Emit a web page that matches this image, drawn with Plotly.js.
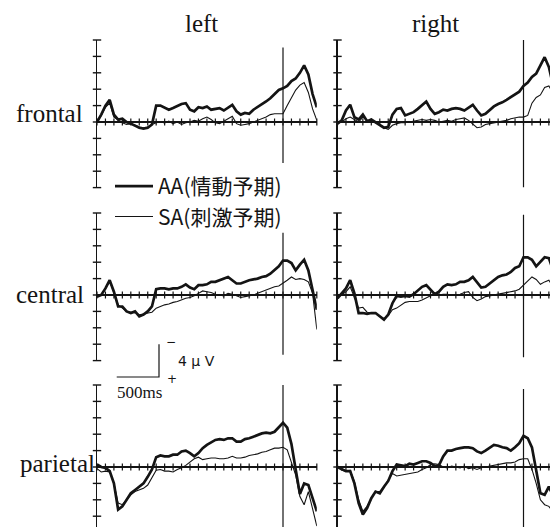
<!DOCTYPE html>
<html>
<head>
<meta charset="utf-8">
<script src="https://cdn.plot.ly/plotly-3.0.1.min.js"></script>
<style>
  html, body { margin: 0; padding: 0; background: #fff; }
  #chart { width: 550px; height: 527px; }
</style>
</head>
<body>
<div id="chart"></div>
<script>
// Sampling times (ms, relative to S2 onset), 50 ms steps
const timeMs = [-2200, -2150, -2100, -2050, -2000, -1950, -1900, -1850, -1800, -1750,
                -1700, -1650, -1600, -1550, -1500, -1450, -1400, -1350, -1300, -1250,
                -1200, -1150, -1100, -1050, -1000, -950, -900, -850, -800, -750,
                -700, -650, -600, -550, -500, -450, -400, -350, -300, -250,
                -200, -150, -100, -50, 0, 50, 100, 150, 200, 250,
                300, 350, 400];

const regions = ['frontal', 'central', 'parietal'];
const hemispheres = ['left', 'right'];
const seriesNames = ['AA(情動予期)', 'SA(刺激予期)'];

// Grand-average amplitudes (µV, negative plotted upward)
const leftFrontalAA = [0, -0.9, -2.0, -2.7, -0.9, -0.3, -0.4, 0, 0.2, 0.45,
  0.7, 0.8, 0.7, 0.3, -2.0, -2.0, -1.7, -1.5, -1.7, -2.0,
  -2.2, -2.3, -1.5, -1.3, -1.8, -1.7, -1.9, -1.5, -1.6, -1.7,
  -1.4, -1.7, -2.1, -1.3, -0.9, -1.1, -1.0, -1.5, -1.8, -2.1,
  -2.5, -2.9, -3.4, -3.9, -4.1, -4.4, -5.0, -5.3, -6.0, -6.9,
  -5.8, -3.4, -1.8];
const leftFrontalSA = [0, -0.8, -1.8, -2.3, -0.6, -0.2, 0.1, 0.3, 0.2, 0.4,
  0.6, 0.7, 0.6, 0.3, 0.1, 0.0, 0.1, -0.1, 0.2, 0.0,
  0.3, 0.1, 0.0, -0.2, -0.1, -0.4, -0.6, -0.3, 0.1, 0.2,
  -0.1, -0.3, -0.7, 0.2, 0.4, 0.3, 0.2, 0.0, -0.2, -0.4,
  -0.6, -0.9, -1.0, -1.0, -1.0, -2.0, -3.0, -3.9, -4.5, -4.8,
  -3.6, -1.6, -0.2];
const rightFrontalAA = [0.2, -0.2, -1.4, -2.1, -0.6, -0.3, -0.9, -0.1, -0.3, 0,
  0.3, 0.7, 0.6, -0.9, -1.6, -1.7, -0.8, -1.0, -1.2, -1.6,
  -2.0, -2.5, -1.6, -1.0, -1.2, -1.5, -1.4, -1.6, -1.7, -1.6,
  -1.4, -1.8, -2.1, -1.4, -0.8, -1.0, -1.5, -1.9, -2.2, -2.4,
  -2.7, -3.0, -3.4, -3.7, -4.4, -4.8, -5.5, -5.9, -6.9, -7.9,
  -6.7, -4.3, -2.2];
const rightFrontalSA = [0.1, 0, -0.4, -0.6, -0.3, 0, -0.6, -0.2, 0, 0.1,
  0.3, 0.7, 0.9, 0.4, 0.2, 0.1, 0.1, 0, -0.1, -0.2,
  -0.3, -0.2, -0.3, -0.2, 0, -0.1, -0.2, -0.1, -0.3, -0.4,
  -0.5, -0.2, 0.3, 0.7, 0.6, 0.3, 0.2, 0.1, 0, -0.1,
  -0.2, -0.4, -0.5, -0.6, -0.6, -0.8, -2.3, -3.0, -3.3, -4.2,
  -4.4, -3.5, -2.0];
const leftCentralAA = [0.2, 0, -0.8, -1.8, -0.4, 1.4, 1.4, 2.0, 2.2, 2.0,
  2.6, 2.4, 2.0, 1.4, -0.7, -0.8, -0.8, -0.7, -0.8, -0.8,
  -1.0, -1.3, -0.9, -0.7, -1.2, -1.2, -1.3, -1.6, -1.6, -1.8,
  -2.0, -2.2, -1.8, -1.4, -1.4, -1.6, -1.8, -1.9, -2.0, -2.2,
  -2.3, -2.6, -3.0, -3.5, -4.2, -4.2, -3.9, -3.0, -3.7, -4.3,
  -3.0, -0.8, 1.8];
const leftCentralSA = [0.2, 0, -0.8, -1.7, -0.3, 1.2, 1.6, 2.0, 2.1, 2.1,
  2.4, 2.3, 2.2, 2.1, 1.6, 1.4, 1.2, 1.1, 0.9, 0.8,
  0.6, 0.4, 0.3, 0.1, -0.2, -0.5, -0.4, -0.3, -0.1, 0.0,
  0.1, -0.2, -0.1, 0.1, 0.3, 0.2, 0.1, 0.0, -0.2, -0.4,
  -0.6, -0.8, -1.0, -1.1, -1.4, -1.8, -2.2, -1.9, -2.0, -1.9,
  -1.6, -0.2, 4.2];
const rightCentralAA = [0.4, -0.2, -0.8, -1.8, -0.2, 2.2, 2.2, 2.3, 2.2, 2.2,
  2.6, 3.0, 2.4, 1.0, 0.1, 0.2, 0.1, 0.2, -0.1, -0.5,
  -1.0, -1.2, -0.7, -0.1, -0.4, -1.0, -1.3, -1.2, -1.3, -1.6,
  -1.6, -1.8, -2.2, -1.6, -0.9, -1.0, -1.4, -1.8, -2.2, -2.4,
  -2.5, -2.8, -3.3, -3.5, -4.6, -4.6, -4.3, -3.5, -4.1, -4.6,
  -4.5, -3.0, -1.0];
const rightCentralSA = [0.3, 0, -0.4, -1.0, 0.2, 1.6, 1.5, 2.1, 2.2, 2.2,
  2.6, 2.9, 2.5, 1.8, 1.6, 1.2, 0.9, 0.8, 0.8, 0.8,
  0.6, 0.3, 0.1, 0, 0, -0.1, -0.1, 0, 0, -0.1,
  -0.3, -0.4, 0.3, 0.7, 0.5, 0.2, 0.1, 0, -0.1, -0.2,
  -0.3, -0.4, -0.5, -0.7, -1.2, -1.8, -2.2, -1.9, -1.3, -1.6,
  -1.8, -1.0, 0];
const leftParietalAA = [-0.3, 0, 0.1, 0.5, 2.0, 5.2, 4.8, 4.0, 3.2, 2.8,
  2.4, 2.0, 1.2, 0.3, -1.2, -1.4, -1.3, -1.3, -1.5, -1.5,
  -1.9, -2.0, -1.7, -1.3, -1.7, -2.3, -2.7, -3.0, -3.3, -3.4,
  -3.3, -3.5, -3.5, -3.1, -3.1, -3.4, -3.5, -3.7, -3.9, -4.1,
  -4.2, -4.1, -4.3, -4.8, -5.4, -4.8, -2.8, 0.3, 3.3, 2.0,
  2.2, 3.8, 5.4];
const leftParietalSA = [0.2, 0.6, 0.5, 0.6, 2.0, 4.4, 4.6, 4.0, 3.4, 3.0,
  2.8, 2.6, 2.2, 1.3, 0.4, 0.3, 0.5, 0.5, 0.6, 0.3,
  0.1, -0.2, -0.6, -1.0, -1.2, -0.9, -1.0, -1.1, -1.1, -1.0,
  -1.0, -1.1, -1.3, -1.1, -1.1, -1.2, -1.4, -1.5, -1.6, -1.8,
  -1.9, -2.1, -2.3, -2.3, -2.4, -2.1, -0.6, 1.0, 3.6, 4.6,
  3.0, 5.0, 7.2];
const rightParietalAA = [0, 0.3, 0.5, 0.5, 2.0, 4.4, 5.8, 5.0, 3.8, 3.0,
  3.2, 2.4, 1.7, 0.5, -0.3, -0.2, -0.1, -0.4, -0.3, -0.5,
  -0.7, -0.7, -0.5, -0.1, -0.2, -1.3, -2.0, -2.0, -2.2, -2.3,
  -2.4, -2.4, -2.3, -1.9, -1.7, -2.0, -2.4, -2.7, -2.6, -2.4,
  -2.3, -2.0, -2.4, -2.9, -3.8, -3.5, -2.4, 0.3, 3.2, 3.4,
  2.4, 3.5, 4.5];
const rightParietalSA = [0, 0.4, 0.5, 0.4, 1.8, 4.0, 5.4, 4.8, 3.8, 3.0,
  3.0, 2.4, 1.6, 0.8, 1.1, 1.0, 0.9, 0.8, 0.7, 0.6,
  0.3, 0.1, -0.3, -0.4, -0.3, 0.0, 0.1, -0.1, 0.0, 0.1,
  -0.1, 0.2, 0.1, 0.3, 0.1, 0.0, -0.1, -0.2, -0.3, -0.4,
  -0.5, -0.5, -0.6, -0.9, -1.0, -1.0, 0.3, 2.0, 4.0, 4.6,
  4.8, 5.5, 6.0];

// Axis tick positions
const yTickUv = [-10, -8, -6, -4, -2, 0, 2, 4, 6, 8];
const xTickMs = [-2200, -2100, -2000, -1900, -1800, -1700, -1600, -1500, -1400,
                 -1300, -1200, -1100, -1000, -900, -800, -700, -600, -500, -400,
                 -300, -200, -100, 0, 100, 200, 300, 400];

// Calibration bar
const scaleMs = 500;
const scaleUv = 4;

const panelData = [
  [[leftFrontalAA, leftFrontalSA], [rightFrontalAA, rightFrontalSA]],
  [[leftCentralAA, leftCentralSA], [rightCentralAA, rightCentralSA]],
  [[leftParietalAA, leftParietalSA], [rightParietalAA, rightParietalSA]]
];

// ---- geometry (pixels) ----
const W = 550, H = 527;
const msPx = 186 / 2200;       // horizontal scale
const uvPx = 8.2;              // vertical scale
const colAxisPx = [97, 337.5];
const rowZeroPx = [122, 295, 467];
const topUv = -10, bottomUv = 8;
const onsetSpan = [
  [[-9.1, 5.0], [-10, 8]],
  [[-7.6, 7.3], [-9.8, 7.6]],
  [[-10, 8], [-9.5, 8]]
];

const ink = '#141414';
const serif = 'Liberation Serif, Times New Roman, serif';
const cjk = 'Noto Sans CJK JP, sans-serif';

const traces = [];
const layout = {
  width: W, height: H,
  margin: {l: 0, r: 0, t: 0, b: 0},
  paper_bgcolor: '#fff', plot_bgcolor: 'rgba(0,0,0,0)',
  showlegend: true,
  legend: {
    x: 110 / W, y: 1 - 166 / H, xanchor: 'left', yanchor: 'top',
    bgcolor: 'rgba(0,0,0,0)', borderwidth: 0,
    font: {family: cjk, size: 21, color: ink},
    itemwidth: 38, tracegroupgap: 0
  },
  shapes: [], annotations: []
};

let n = 0;
for (let r = 0; r < 3; r++) {
  for (let c = 0; c < 2; c++) {
    n++;
    const s = n === 1 ? '' : String(n);
    const x0 = colAxisPx[c];
    const x1 = Math.min(x0 + (timeMs[timeMs.length - 1] - timeMs[0]) * msPx, W);
    const xr = [timeMs[0], timeMs[0] + (x1 - x0) / msPx];
    const topPx = rowZeroPx[r] + topUv * uvPx;
    const botPx = Math.min(rowZeroPx[r] + bottomUv * uvPx, H);
    const yr = [(botPx - rowZeroPx[r]) / uvPx, topUv];

    layout['xaxis' + s] = {
      domain: [x0 / W, x1 / W], range: xr, anchor: 'y' + s,
      showline: false, showgrid: false, zeroline: false,
      showticklabels: false, ticks: ''
    };
    layout['yaxis' + s] = {
      domain: [1 - botPx / H, 1 - topPx / H], range: yr, anchor: 'x' + s,
      showline: true, linecolor: ink, linewidth: 1.4,
      zeroline: true, zerolinecolor: ink, zerolinewidth: 1.3,
      showgrid: false, showticklabels: false, ticks: ''
    };

    const xa = 'x' + s, ya = 'y' + s;
    const [aa, sa] = panelData[r][c];

    traces.push({
      x: timeMs, y: sa, xaxis: xa, yaxis: ya, type: 'scatter', mode: 'lines',
      name: seriesNames[1], legendrank: 2, showlegend: n === 1,
      line: {color: ink, width: 1.1}, hoverinfo: 'skip'
    });
    traces.push({
      x: timeMs, y: aa, xaxis: xa, yaxis: ya, type: 'scatter', mode: 'lines',
      name: seriesNames[0], legendrank: 1, showlegend: n === 1,
      line: {color: ink, width: 2.7}, hoverinfo: 'skip'
    });

    // amplitude ticks crossing the vertical axis
    const yt = yTickUv.filter(v => v <= yr[0]);
    traces.push({
      x: yt.map(() => timeMs[0]), y: yt, xaxis: xa, yaxis: ya,
      type: 'scatter', mode: 'markers', cliponaxis: false, showlegend: false,
      hoverinfo: 'skip',
      marker: {symbol: 'line-ew', size: 6, line: {color: ink, width: 1.4}}
    });
    // time ticks along the baseline
    const xt = xTickMs.filter(t => t <= xr[1]);
    traces.push({
      x: xt, y: xt.map(() => 0), xaxis: xa, yaxis: ya,
      type: 'scatter', mode: 'markers', cliponaxis: false, showlegend: false,
      hoverinfo: 'skip',
      marker: {symbol: 'line-ns', size: 5, line: {color: ink, width: 1.2}}
    });

    // S2 onset marker
    layout.shapes.push({
      type: 'line', xref: xa, yref: ya, x0: 0, x1: 0,
      y0: onsetSpan[r][c][0], y1: Math.min(onsetSpan[r][c][1], yr[0]),
      line: {color: ink, width: 1.2}
    });
  }
}

// calibration bar on its own axes, same scale as the panels
const cornerPx = [159, 377];
const sbX = [105, 180], sbY = [335, 388];
layout.xaxis7 = {
  domain: [sbX[0] / W, sbX[1] / W],
  range: [scaleMs + (sbX[0] - cornerPx[0]) / msPx, scaleMs + (sbX[1] - cornerPx[0]) / msPx],
  anchor: 'y7', visible: false
};
layout.yaxis7 = {
  domain: [1 - sbY[1] / H, 1 - sbY[0] / H],
  range: [(sbY[1] - cornerPx[1]) / uvPx, (sbY[0] - cornerPx[1]) / uvPx],
  anchor: 'x7', visible: false
};
traces.push({
  x: [0, scaleMs, scaleMs], y: [0, 0, -scaleUv], xaxis: 'x7', yaxis: 'y7',
  type: 'scatter', mode: 'lines', showlegend: false, hoverinfo: 'skip',
  line: {color: ink, width: 1.2}
});

function note(text, xPx, yPx, size, family, xanchor) {
  layout.annotations.push({
    text: text, xref: 'paper', yref: 'paper',
    x: xPx / W, y: 1 - yPx / H, xanchor: xanchor || 'center', yanchor: 'middle',
    showarrow: false, font: {family: family, size: size, color: ink}
  });
}

// column and row headings
note(hemispheres[0], 201, 23.5, 25, serif);
note(hemispheres[1], 435, 23.5, 25, serif);
note(regions[0], 85, 113.5, 25, serif, 'right');
note(regions[1], 86, 294.5, 25, serif, 'right');
note(regions[2], 97, 463.5, 25, serif, 'right');

// calibration labels
note('−', 171, 342, 12, 'DejaVu Sans');
note('+', 172, 379, 12, 'DejaVu Sans');
note('4 μ V', 176, 361, 14, 'DejaVu Sans', 'left');
note(scaleMs + 'ms', 140, 392, 17, serif);

Plotly.newPlot('chart', traces, layout, {staticPlot: true, displayModeBar: false});
</script>
</body>
</html>
